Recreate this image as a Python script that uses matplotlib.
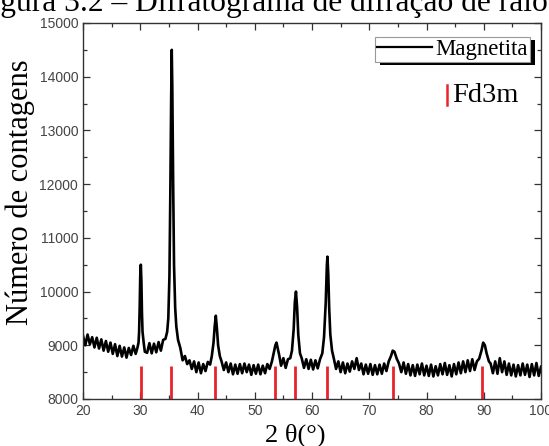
import matplotlib
matplotlib.use("Agg")
import matplotlib.pyplot as plt
import matplotlib.patheffects as pe
from matplotlib.ticker import MultipleLocator

# XRD pattern (2 theta in degrees, counts)
two_theta = [20.0, 20.4, 20.8, 21.2, 21.6, 22.0, 22.4, 22.8, 23.2, 23.6,
             24.0, 24.4, 24.8, 25.2, 25.6, 26.0, 26.4, 26.8, 27.2, 27.6,
             28.0, 28.4, 28.8, 29.2, 29.5, 29.7, 29.8, 29.9, 30.0, 30.1,
             30.2, 30.3, 30.4, 30.6, 30.8, 31.2, 31.6, 32.0, 32.4, 32.8,
             33.2, 33.6, 34.0, 34.4, 34.7, 34.9, 35.1, 35.25, 35.4, 35.5,
             35.6, 35.75, 35.9, 36.1, 36.3, 36.6, 37.0, 37.4, 37.8, 38.2,
             38.6, 39.0, 39.4, 39.8, 40.2, 40.6, 41.0, 41.4, 41.8, 42.2,
             42.5, 42.8, 43.0, 43.2, 43.4, 43.6, 43.9, 44.2, 44.6, 45.0,
             45.4, 45.8, 46.2, 46.6, 47.0, 47.4, 47.8, 48.2, 48.6, 49.0,
             49.4, 49.8, 50.2, 50.6, 51.0, 51.4, 51.8, 52.2, 52.6, 53.0,
             53.3, 53.6, 53.8, 54.0, 54.3, 54.6, 55.0, 55.4, 55.8, 56.2,
             56.5, 56.8, 57.0, 57.2, 57.4, 57.6, 57.9, 58.2, 58.6, 59.0,
             59.4, 59.8, 60.2, 60.6, 61.0, 61.4, 61.8, 62.1, 62.4, 62.6,
             62.7, 62.85, 63.0, 63.2, 63.5, 63.8, 64.2, 64.6, 65.0, 65.4,
             65.8, 66.2, 66.6, 67.0, 67.4, 67.8, 68.2, 68.6, 69.0, 69.4,
             69.8, 70.2, 70.6, 71.0, 71.4, 71.8, 72.2, 72.6, 73.0, 73.4,
             73.8, 74.1, 74.4, 74.8, 75.2, 75.6, 76.0, 76.4, 76.8, 77.2,
             77.6, 78.0, 78.4, 78.8, 79.2, 79.6, 80.0, 80.4, 80.8, 81.2,
             81.6, 82.0, 82.4, 82.8, 83.2, 83.6, 84.0, 84.4, 84.8, 85.2,
             85.6, 86.0, 86.4, 86.8, 87.2, 87.6, 88.0, 88.4, 88.8, 89.2,
             89.6, 89.9, 90.2, 90.5, 90.9, 91.2, 91.6, 92.0, 92.4, 92.8,
             93.2, 93.6, 94.0, 94.4, 94.8, 95.2, 95.6, 96.0, 96.4, 96.8,
             97.2, 97.6, 98.0, 98.4, 98.8, 99.2, 99.6, 100.0]
counts = [9180, 9000, 9200, 9020, 9150, 8960, 9140, 8940, 9110, 8900,
          9080, 8880, 9050, 8840, 9020, 8800, 8990, 8790, 8960, 8770,
          8950, 8820, 8990, 8840, 8950, 9050, 9250, 9700, 10300, 10500,
          10200, 9600, 9250, 9050, 8880, 8860, 9040, 8850, 9030, 8870,
          9060, 8900, 9100, 9120, 9250, 9500, 10300, 11800, 13600, 14500,
          13800, 12000, 10500, 9700, 9350, 9100, 8950, 8720, 8800, 8650,
          8720, 8560, 8700, 8500, 8680, 8480, 8650, 8520, 8690, 8640,
          8800, 9050, 9350, 9550, 9300, 9000, 8800, 8700, 8540, 8680,
          8500, 8660, 8460, 8640, 8470, 8650, 8480, 8660, 8500, 8640,
          8450, 8630, 8470, 8640, 8460, 8620, 8480, 8650, 8560, 8700,
          8850, 9000, 9050, 8950, 8800, 8620, 8760, 8580, 8740, 8760,
          8900, 9300, 9800, 10000, 9700, 9200, 8850, 8760, 8580, 8740,
          8560, 8730, 8550, 8720, 8570, 8740, 8850, 9150, 9800, 10500,
          10650, 10300, 9700, 9200, 8900, 8760, 8560, 8700, 8500, 8680,
          8480, 8660, 8510, 8700, 8560, 8760, 8540, 8660, 8460, 8640,
          8470, 8650, 8450, 8630, 8460, 8640, 8470, 8660, 8520, 8700,
          8800, 8900, 8880, 8750, 8660, 8500, 8680, 8470, 8650, 8440,
          8630, 8430, 8640, 8460, 8660, 8440, 8620, 8430, 8640, 8420,
          8610, 8440, 8650, 8460, 8670, 8450, 8630, 8420, 8650, 8460,
          8680, 8480, 8700, 8500, 8720, 8520, 8740, 8540, 8700, 8750,
          8900, 9050, 9000, 8850, 8700, 8660, 8480, 8700, 8470, 8760,
          8500, 8700, 8450, 8660, 8440, 8640, 8420, 8630, 8440, 8660,
          8450, 8640, 8410, 8650, 8440, 8670, 8430, 8600]

# reference reflections, Fd3m
fd3m_pos = [30.1, 35.45, 43.1, 53.45, 57.0, 62.6, 74.1, 89.7]
fd3m_top = 8620

fig = plt.figure(figsize=(5.49, 4.46), dpi=100)
ax = fig.add_axes([83 / 549, 1 - 399 / 446, 458 / 549, 376 / 446])

ax.plot(two_theta, counts, color="black", lw=1.9, label="Magnetita")
ax.vlines(fd3m_pos, 8000, fd3m_top, color="#e8242a", lw=2)

ax.set_xlim(20, 100)
ax.set_ylim(8000, 15000)
ax.xaxis.set_major_locator(MultipleLocator(10))
ax.xaxis.set_minor_locator(MultipleLocator(5))
ax.yaxis.set_major_locator(MultipleLocator(1000))
ax.yaxis.set_minor_locator(MultipleLocator(500))
ax.tick_params(which="both", direction="in", top=True, right=True,
               color="#333333", width=0.9)
ax.tick_params(which="major", length=5, labelsize=10, labelcolor="#444444")
ax.tick_params(which="minor", length=3)
for lab in ax.get_xticklabels() + ax.get_yticklabels():
    lab.set_family("Liberation Sans")
for s in ax.spines.values():
    s.set_color("#333333")
    s.set_linewidth(1)

ax.set_xlabel("2 θ(°)", family="Liberation Serif", fontsize=19)
ax.xaxis.set_label_coords(0.463, -0.065)
ax.xaxis.label.set_va("top")
ax.set_ylabel("Número de contagens", family="Liberation Serif", fontsize=22)
ax.yaxis.set_label_coords(-0.105, 0.55)

leg = ax.legend(loc="upper right", bbox_to_anchor=(0.976, 0.963),
                borderaxespad=0, fancybox=False, framealpha=1,
                handlelength=2.4, handletextpad=0.15, borderpad=0.08,
                prop={"family": "Liberation Serif", "size": 16.5})
leg.get_lines()[0].set_linewidth(1.6)
frame = leg.get_frame()
frame.set_edgecolor("#999999")
frame.set_linewidth(0.8)
frame.set_path_effects([pe.SimplePatchShadow(offset=(3.6, -2.4),
                                             shadow_rgbFace="black", alpha=1),
                        pe.Normal()])

ax.plot([0.795, 0.795], [0.782, 0.835], color="#e8242a", lw=1.8,
        transform=ax.transAxes)
ax.text(0.806, 0.79, "Fd3m", transform=ax.transAxes,
        family="Liberation Serif", fontsize=20.5, va="baseline")

fig.text(-26 / 549, 1 - 11 / 446,
         "Figura 3.2 – Difratograma de difração de raios X",
         family="Liberation Serif", fontsize=22.7, va="baseline")

fig.savefig("out.png", dpi=100)
